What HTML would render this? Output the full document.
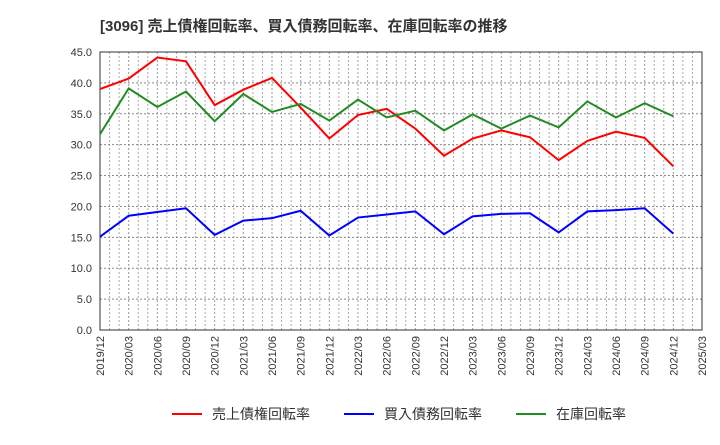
<!DOCTYPE html>
<html><head><meta charset="utf-8"><style>
body{margin:0;background:#fff;font-family:"Liberation Sans","Noto Sans CJK JP",sans-serif;}
</style></head><body>
<svg id="c" width="720" height="440" xmlns="http://www.w3.org/2000/svg">
<text x="100" y="31" font-size="15" font-weight="bold" fill="#333" font-family="Liberation Sans, Noto Sans CJK JP, sans-serif">[3096]  売上債権回転率、買入債務回転率、在庫回転率の推移</text>
<g id="grid"></g><g id="axes"></g><g id="series"></g>
<g id="legend" font-size="14" font-family="Liberation Sans, Noto Sans CJK JP, sans-serif">
<line x1="172" y1="414" x2="202" y2="414" stroke="#ff0000" stroke-width="2"/>
<text x="212" y="419" fill="#333">売上債権回転率</text>
<line x1="344" y1="414" x2="374" y2="414" stroke="#0000ff" stroke-width="2"/>
<text x="384" y="419" fill="#333">買入債務回転率</text>
<line x1="516" y1="414" x2="546" y2="414" stroke="#228b22" stroke-width="2"/>
<text x="556" y="419" fill="#333">在庫回転率</text>
</g>
</svg>
<script>
const xLabels=["2019/12","2020/03","2020/06","2020/09","2020/12","2021/03","2021/06","2021/09","2021/12","2022/03","2022/06","2022/09","2022/12","2023/03","2023/06","2023/09","2023/12","2024/03","2024/06","2024/09","2024/12","2025/03"];
const yTicks=[0,5,10,15,20,25,30,35,40,45];
const receivables=[39.0,40.7,44.1,43.5,36.4,38.9,40.8,36.0,31.0,34.8,35.8,32.6,28.2,31.0,32.3,31.2,27.5,30.6,32.1,31.1,26.5];
const payables=[15.1,18.5,19.1,19.7,15.4,17.7,18.1,19.3,15.3,18.2,18.7,19.2,15.5,18.4,18.8,18.9,15.8,19.2,19.4,19.7,15.6];
const inventory=[31.7,39.1,36.1,38.6,33.8,38.2,35.3,36.6,33.9,37.3,34.4,35.5,32.3,34.9,32.6,34.7,32.8,37.0,34.4,36.7,34.6];
const L=100,R=702,T=52,B=330,NS="http://www.w3.org/2000/svg";
const xs=i=>L+i*(R-L)/(xLabels.length-1);
const ys=v=>B-v/45*(B-T);
function mk(t,a,p){const e=document.createElementNS(NS,t);for(const k in a)e.setAttribute(k,a[k]);p.appendChild(e);return e;}
const g=document.getElementById('grid'),ax=document.getElementById('axes'),s=document.getElementById('series');
for(let m=1;m<(xLabels.length-1)*3;m++){
 if(m%3===0)continue;
 const x=xs(m/3);
 const ln=mk('line',{x1:x,y1:T,x2:x,y2:B,stroke:'#aaa','stroke-dasharray':'2,2','stroke-width':1},g);
 
 
}
for(let i=0;i<xLabels.length;i++){
 const x=xs(i);
 const ln=mk('line',{x1:x,y1:T,x2:x,y2:B,stroke:'#999','stroke-dasharray':'2,2','stroke-width':1},g);
 
 
 const t=mk('text',{x:0,y:0,transform:`translate(${x+4},336) rotate(-90)`,'text-anchor':'end','font-size':11,fill:'#333'},ax);
 t.textContent=xLabels[i];
 
 
}
for(const v of yTicks){
 const y=ys(v);
 const ln=mk('line',{x1:L,y1:y,x2:R,y2:y,stroke:'#888','stroke-dasharray':'2,2','stroke-width':1},g);
 
 
 const t=mk('text',{x:L-8,y:y+4,'text-anchor':'end','font-size':11,fill:'#333'},ax);
 t.textContent=v.toFixed(1);
 
 
}
const fr=mk('rect',{x:L,y:T,width:R-L,height:B-T,fill:'none',stroke:'#333','stroke-width':1},ax);


function line(arr,col,name){
 const p=mk('polyline',{points:arr.map((v,i)=>xs(i)+','+ys(v)).join(' '),fill:'none',stroke:col,'stroke-width':2},s);
 
 
}
line(receivables,'#ff0000','receivables-turnover-line');
line(payables,'#0000ff','payables-turnover-line');
line(inventory,'#228b22','inventory-turnover-line');
</script>
</body></html>
